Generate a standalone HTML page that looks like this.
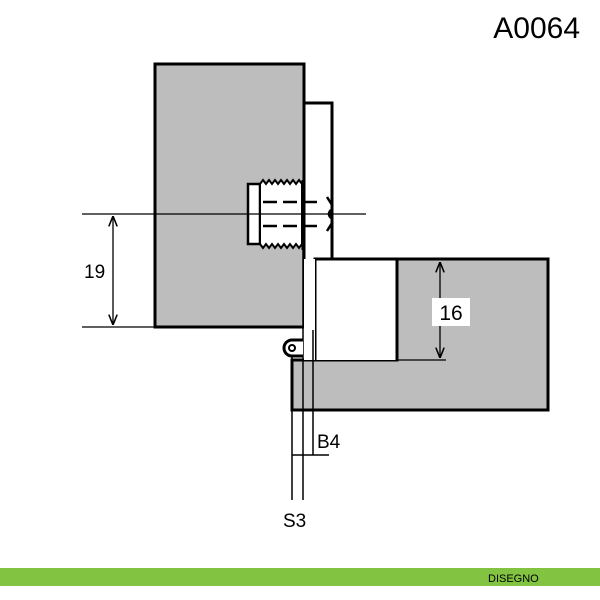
<!DOCTYPE html>
<html><head><style>
body{margin:0;background:#fff;width:600px;height:600px;overflow:hidden;position:relative;font-family:"Liberation Sans",sans-serif}
</style></head><body>
<svg width="600" height="600" style="position:absolute;left:0;top:0">
<defs>
<marker id="a" viewBox="0 0 10 10" refX="10" refY="5" markerWidth="8" markerHeight="8" orient="auto-start-reverse"><path d="M0,1 L10,5 L0,9" fill="none" stroke="#000" stroke-width="1.5"/></marker>
</defs>
<text x="580" y="38" font-size="30" text-anchor="end" font-family="Liberation Sans">A0064</text>
<!-- left block -->
<rect x="155" y="64" width="149" height="263" fill="#bdbdbd" stroke="#000" stroke-width="3"/>
<!-- hinge top -->
<polyline points="304,103 332,103 332,258" fill="none" stroke="#000" stroke-width="3"/>
<!-- right block -->
<path d="M292,360 H397 V259 H548 V410 H292 Z" fill="#bdbdbd" stroke="#000" stroke-width="3"/>
<path d="M315,360 V259 H397 V360" fill="#fff" stroke="#000" stroke-width="3"/>
<!-- leaf strip -->
<rect x="304" y="259" width="11" height="101" fill="#fff"/>
<line x1="303" y1="250" x2="303" y2="500" stroke="#000" stroke-width="1.5"/>
<line x1="313" y1="330" x2="313" y2="455" stroke="#000" stroke-width="1.5"/>
<line x1="292" y1="355" x2="292" y2="500" stroke="#000" stroke-width="1.5"/>
<line x1="292" y1="455" x2="329" y2="455" stroke="#000" stroke-width="1.5"/>
<path d="M303,340 H292 A8,8 0 0 0 292,356 H303" fill="#fff" stroke="#000" stroke-width="3"/>
<circle cx="292" cy="348" r="3" fill="#fff" stroke="#000" stroke-width="2"/>
<!-- screw -->
<rect x="248" y="184" width="12" height="60" fill="#fff" stroke="#000" stroke-width="2.5"/>
<path d="M260,184 L263,180 L266,184 L269,180 L272,184 L275,180 L278,184 L281,180 L284,184 L287,180 L290,184 L293,180 L296,184 L299,180 L302,184 V244 L299,248 L296,244 L293,248 L290,244 L287,248 L284,244 L281,248 L278,244 L275,248 L272,244 L269,248 L266,244 L263,248 L260,244 Z" fill="#fff" stroke="#000" stroke-width="2"/>
<line x1="303" y1="180" x2="303" y2="250" stroke="#000" stroke-width="3"/>
<line x1="263" y1="202" x2="323" y2="202" stroke="#000" stroke-width="2.5" stroke-dasharray="14,6"/>
<line x1="263" y1="226" x2="323" y2="226" stroke="#000" stroke-width="2.5" stroke-dasharray="14,6"/>
<path d="M327,197 L332,205 M331,210 Q327,214 331,218 M327,231 L332,223" stroke="#000" stroke-width="2.5" fill="none"/>
<!-- dims -->
<line x1="82" y1="214" x2="366" y2="214" stroke="#000" stroke-width="1.3"/>
<line x1="82" y1="327" x2="155" y2="327" stroke="#000" stroke-width="1.3"/>
<line x1="113" y1="216" x2="113" y2="325" stroke="#000" stroke-width="1.3" marker-start="url(#a)" marker-end="url(#a)"/>
<text x="84" y="278" font-size="19">19</text>
<line x1="397" y1="360" x2="446" y2="360" stroke="#000" stroke-width="1.3"/>
<line x1="440" y1="262" x2="440" y2="358" stroke="#000" stroke-width="1.3" marker-start="url(#a)" marker-end="url(#a)"/>
<rect x="432" y="298" width="38" height="28" fill="#fff"/>
<text x="451" y="320" font-size="21" text-anchor="middle">16</text>
<text x="317" y="448" font-size="19">B4</text>
<text x="283" y="527" font-size="19">S3</text>
<rect x="0" y="568" width="600" height="18" fill="#82c341"/>
<text x="488" y="582" font-size="11">DISEGNO</text>
</svg>
</body></html>
